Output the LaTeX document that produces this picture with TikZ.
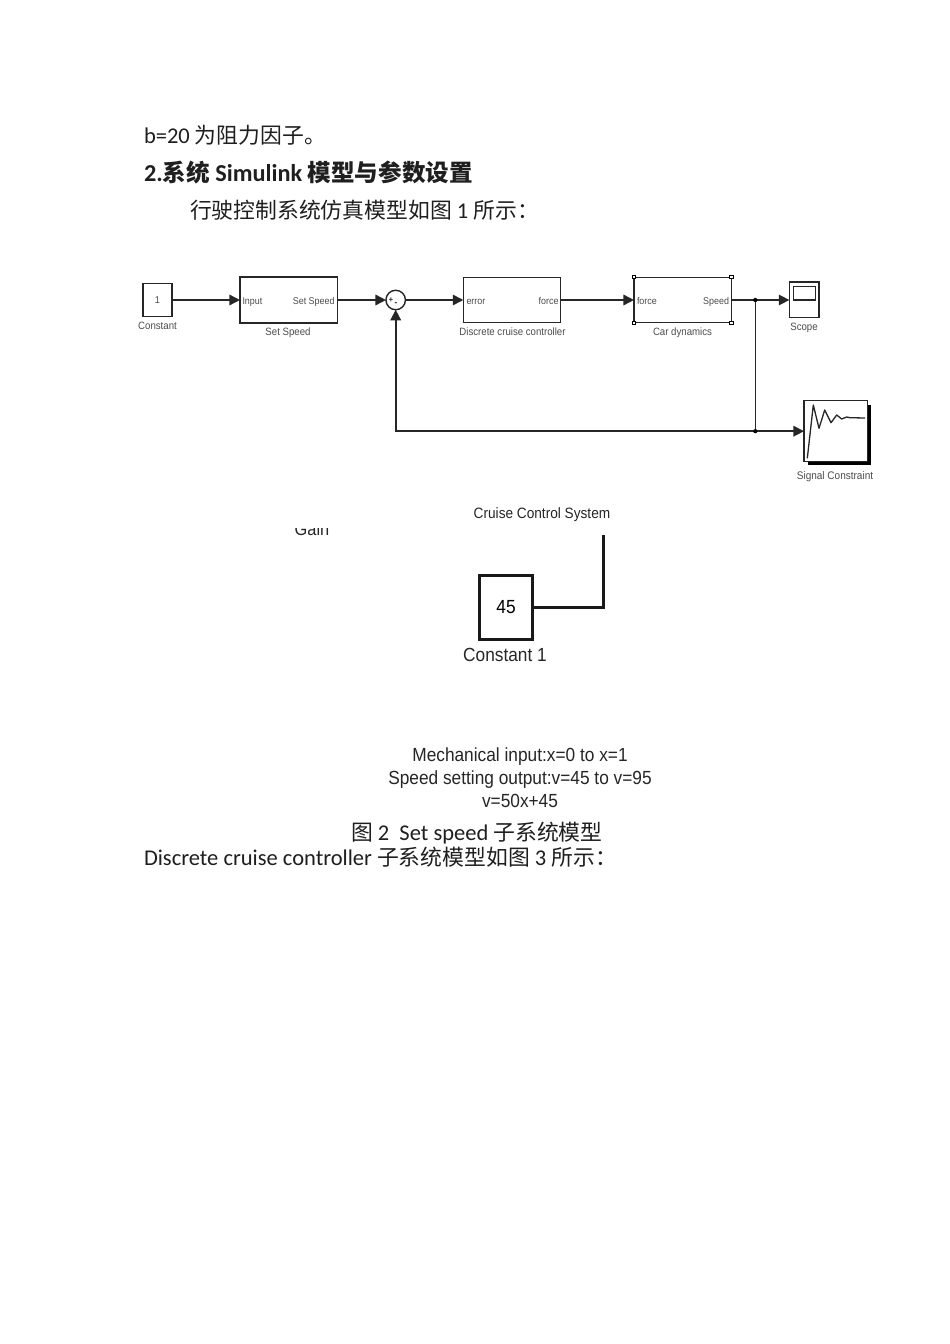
\documentclass[tikz,border=0pt]{standalone}
\usepackage{fontspec}
\setmainfont{Carlito}
\newfontfamily\cjk[Scale=0.97]{Noto Sans CJK SC}
\newfontfamily\simfont[FakeStretch=0.91]{Liberation Sans}
\usetikzlibrary{arrows.meta}
\tikzset{
  bodytext/.style={anchor=base west,inner sep=0pt,outer sep=0pt,text=black!88,font=\fontsize{22.5}{25}\selectfont},
  blockbox/.style={draw=black!85,line width=1.4pt,fill=white,inner sep=0pt,outer sep=0pt},
  wire/.style={draw=black!85,line width=1.6pt},
  arrowwire/.style={wire,-{Triangle[length=10.5pt,width=10.5pt]}},
  portlabel/.style={inner sep=0pt,outer sep=0pt,text=black!70,font=\simfont\fontsize{9.8}{11}\selectfont},
  blocklabel/.style={inner sep=0pt,outer sep=0pt,text=black!70,font=\simfont\fontsize{10.6}{12}\selectfont},
  bigbox/.style={draw=black!90,line width=3pt,fill=white,inner sep=0pt,outer sep=0pt},
  bigtext/.style={inner sep=0pt,outer sep=0pt,text=black!85,font=\simfont\fontsize{19}{22}\selectfont},
  handle/.style={draw=black,line width=1pt,fill=white,inner sep=0pt,minimum size=3.4pt,outer sep=0pt},
  junction/.style={circle,fill=black,inner sep=0pt,minimum size=4.2pt,outer sep=0pt}
}
\begin{document}
\begin{tikzpicture}[x=1pt,y=-1pt]
\useasboundingbox[fill=white] (0,0) rectangle (950,1344);
% document text
\node[bodytext] (t1) at (144,143) {b=20 {\cjk 为阻力因子。}};
\node[bodytext,font=\bfseries\fontsize{24.3}{27}\selectfont] (t2) at (144,181) {2.{\cjk 系统} Simulink {\cjk 模型与参数设置}};
\node[bodytext] (t3) at (190,218) {{\cjk 行驶控制系统仿真模型如图} 1 {\cjk 所示：}};
% figure 1 blocks
\node[blockbox,minimum width=29pt,minimum height=33pt,font=\simfont\fontsize{10}{12}\selectfont,text=black!70] (const) at (157.3,300) {1};
\node[blocklabel,anchor=base] (constl) at (157.5,329) {Constant};
\node[blockbox,minimum width=97.5pt,minimum height=46pt] (setsp) at (288.7,300) {};
\node[portlabel,anchor=base west] (setin) at (242.5,304) {Input};
\node[portlabel,anchor=base east] (setout) at (334.5,304) {Set Speed};
\node[blocklabel,anchor=base] (setl) at (288,335.5) {Set Speed};
\node[blockbox,circle,minimum size=19.5pt] (sum) at (395.7,300) {};
\node[inner sep=0pt,font=\simfont\bfseries\fontsize{8}{8}\selectfont,text=black!85] (plus) at (391,300) {+};
\node[inner sep=0pt,font=\simfont\bfseries\fontsize{9}{9}\selectfont,text=black!85] (minus) at (396,304) {-};
\node[blockbox,minimum width=97.5pt,minimum height=45.5pt] (ctrl) at (512,300) {};
\node[portlabel,anchor=base west] (ctrlin) at (466.5,304) {error};
\node[portlabel,anchor=base east] (ctrlout) at (558.5,304) {force};
\node[blocklabel,anchor=base] (ctrll) at (512.5,335.5) {Discrete cruise controller};
\node[blockbox,minimum width=97.7pt,minimum height=45.5pt] (car) at (682.8,300) {};
\node[portlabel,anchor=base west] (carin) at (637,304) {force};
\node[portlabel,anchor=base east] (carout) at (729,304) {Speed};
\node[blocklabel,anchor=base] (carl) at (682.5,335.5) {Car dynamics};
\foreach \c in {north west,north east,south west,south east}
  \node[handle] at (car.\c) {};
\node[blockbox,minimum width=29.7pt,minimum height=35.3pt] (scope) at (804.2,299.7) {};
\node[draw=black!85,line width=1.4pt,inner sep=0pt,minimum width=22.4pt,minimum height=13.3pt] (screen) at (804.5,293.4) {};
\node[blocklabel,anchor=base] (scopel) at (804,330) {Scope};
% signal constraint
\fill[black] (807.5,404.5) rectangle (871.2,465.3);
\node[blockbox,minimum width=63.7pt,minimum height=61pt] (sig) at (835.8,431.2) {};
\draw[line width=1.3pt,black!85,line join=round] (807.3,458.3) -- (813.3,405) -- (819,428.3) -- (824.7,410) -- (831,422.7) -- (836.7,415) -- (841.7,419) -- (846.7,417) -- (850,417.7) -- (865,418);
\node[blocklabel,anchor=base,font=\simfont\fontsize{11}{13}\selectfont] (sigl) at (835,479) {Signal Constraint};
% figure 1 connectors
\coordinate (j1) at (755.3,300);
\coordinate (j2) at (755.3,431.2);
\coordinate (fb) at (sum.south |- j2);
\draw[arrowwire] (const.east) -- (setsp.west);
\draw[arrowwire] (setsp.east) -- (sum.west);
\draw[arrowwire] (sum.east) -- (ctrl.west);
\draw[arrowwire] (ctrl.east) -- (car.west);
\draw[arrowwire] (car.east) -- (j1) -- (j1 -| scope.west);
\draw[wire] (j1) -- (j2);
\draw[arrowwire] (j2) -- (fb) -- (sum.south);
\draw[arrowwire] (j2) -- (j2 -| sig.west);
\node[junction] at (j1) {};
\node[junction] at (j2) {};
% figure 2 crop
\node[bigtext,anchor=base,font=\simfont\fontsize{15}{17}\selectfont] (ccs) at (542,518) {Cruise Control System};
\begin{scope}
  \clip (285,528) rectangle (340,540);
  \node[bigtext,anchor=base,font=\simfont\fontsize{18}{20}\selectfont] (gain) at (312,535.5) {Gain};
\end{scope}
\node[bigbox,minimum width=53.4pt,minimum height=64pt,font=\simfont\fontsize{19}{22}\selectfont] (c45) at (506,607) {45};
\node[bigtext,anchor=base] (c45l) at (505,661) {Constant 1};
\coordinate (wtop) at (603.3,535);
\draw[draw=black!90,line width=3pt] (c45.east) -| (wtop);
\node[bigtext,anchor=base] (m1) at (520,761) {Mechanical input:x=0 to x=1};
\node[bigtext,anchor=base] (m2) at (520,784) {Speed setting output:v=45 to v=95};
\node[bigtext,anchor=base] (m3) at (520,807) {v=50x+45};
% captions
\node[bodytext] (cap2) at (351,840) {{\cjk 图} 2\ \ Set speed {\cjk 子系统模型}};
\node[bodytext] (t4) at (144,865) {Discrete cruise controller {\cjk 子系统模型如图} 3 {\cjk 所示：}};
\end{tikzpicture}
\end{document}
